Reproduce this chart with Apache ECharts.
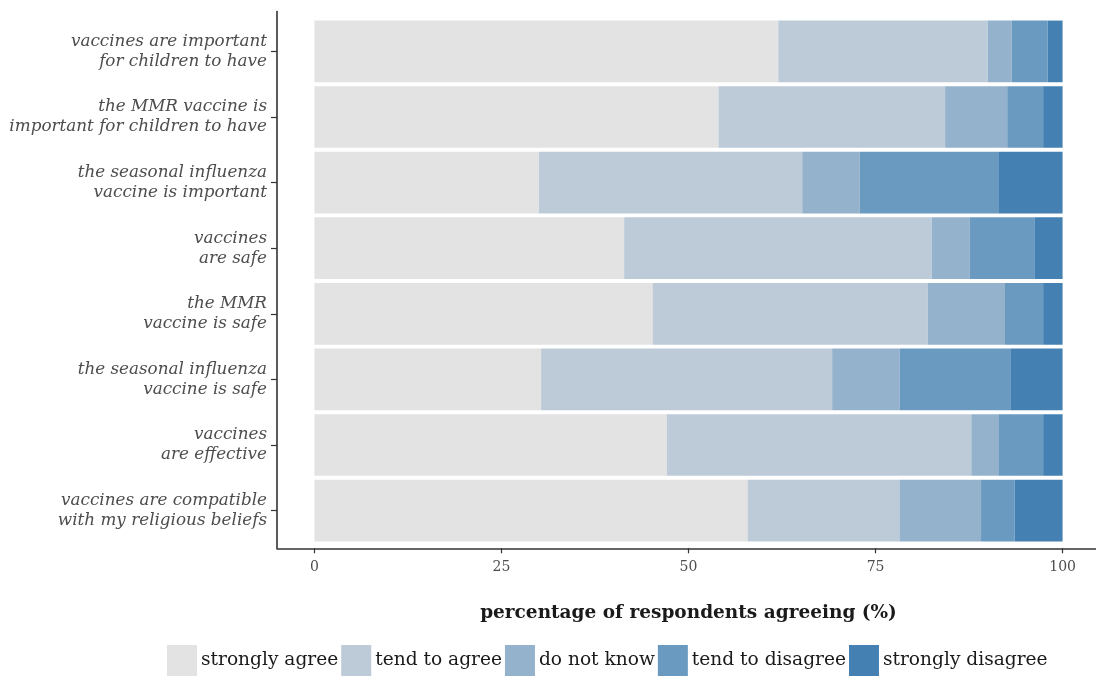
<!DOCTYPE html>
<html>
<head>
<meta charset="utf-8">
<script src="https://cdn.jsdelivr.net/npm/echarts@6/dist/echarts.min.js"></script>
<style>
html,body{margin:0;padding:0;background:#fff;}
#chart{width:1096px;height:676px;}
</style>
</head>
<body>
<div id="chart"></div>
<script>
var categories = [
  'vaccines are important\nfor children to have',
  'the MMR vaccine is\nimportant for children to have',
  'the seasonal influenza\nvaccine is important',
  'vaccines\nare safe',
  'the MMR\nvaccine is safe',
  'the seasonal influenza\nvaccine is safe',
  'vaccines\nare effective',
  'vaccines are compatible\nwith my religious beliefs'
];
var seriesNames = ['strongly agree', 'tend to agree', 'do not know', 'tend to disagree', 'strongly disagree'];
var stronglyAgree    = [62.0, 54.0, 30.0, 41.4, 45.2, 30.3, 47.1, 57.9];
var tendToAgree      = [28.0, 30.3, 35.2, 41.1, 36.8, 38.9, 40.7, 20.3];
var doNotKnow        = [3.2, 8.3, 7.7, 5.1, 10.3, 9.0, 3.7, 10.9];
var tendToDisagree   = [4.8, 4.8, 18.6, 8.7, 5.1, 14.9, 5.9, 4.5];
var stronglyDisagree = [2.0, 2.6, 8.5, 3.7, 2.6, 6.9, 2.6, 6.4];
var xTicks = [0, 25, 50, 75, 100];
var colors = ['#e3e3e3', '#bdcbd8', '#94b2cc', '#6b9ac1', '#4580b2'];

var values = [stronglyAgree, tendToAgree, doNotKnow, tendToDisagree, stronglyDisagree];
var FONT = '"DejaVu Serif", "Liberation Serif", serif';

var chart = echarts.init(document.getElementById('chart'), null, {renderer: 'canvas'});
var series = seriesNames.map(function (n, i) {
  return {
    name: n, type: 'bar', stack: 'total',
    xAxisIndex: 0, yAxisIndex: 0,
    barWidth: '94%',
    itemStyle: {color: colors[i]},
    emphasis: {disabled: true},
    data: values[i]
  };
});

chart.setOption({
  animation: false,
  color: colors,
  grid: [
    {left: 277, width: 823, top: 18.6, height: 524.8, outerBoundsMode: 'none', containLabel: false},
    {left: 277, width: 823, top: 11.5, height: 536.8, outerBoundsMode: 'none', containLabel: false}
  ],
  xAxis: [
    {gridIndex: 0, type: 'value', min: -5, max: 105, show: false, axisLine: {onZero: false}},
    {gridIndex: 1, type: 'value', min: -5, max: 105,
     axisLine: {show: true, onZero: false, lineStyle: {color: '#333', width: 1.6}},
     axisTick: {show: true, length: 5, customValues: xTicks, lineStyle: {color: '#333', width: 1.2}},
     axisLabel: {show: true, customValues: xTicks, color: '#4d4d4d', fontFamily: FONT, fontSize: 14, margin: 12},
     splitLine: {show: false},
     name: 'percentage of respondents agreeing (%)',
     nameLocation: 'middle', nameGap: 55,
     nameTextStyle: {fontFamily: FONT, fontWeight: 'bold', fontSize: 18.5, color: '#1a1a1a'}
    }
  ],
  yAxis: [
    {gridIndex: 0, type: 'category', data: categories, inverse: true,
     axisLine: {show: false, onZero: false},
     axisTick: {show: true, alignWithLabel: true, length: 6, lineStyle: {color: '#333', width: 1.2}},
     axisLabel: {color: '#4d4d4d', fontFamily: FONT, fontStyle: 'italic', fontSize: 16.8, lineHeight: 20, margin: 10, align: 'right'}
    },
    {gridIndex: 1, type: 'value', min: 0, max: 1,
     axisLine: {show: true, onZero: false, lineStyle: {color: '#333', width: 1.6}},
     axisTick: {show: false}, axisLabel: {show: false}, splitLine: {show: false}}
  ],
  legend: {
    data: seriesNames,
    left: 167, top: 645, padding: 0,
    icon: 'rect', itemWidth: 30, itemHeight: 31, itemGap: 3,
    textStyle: {fontFamily: FONT, fontSize: 18.6, color: '#1a1a1a', padding: [0, 0, 0, -1]}
  },
  series: series
});
</script>
</body>
</html>
